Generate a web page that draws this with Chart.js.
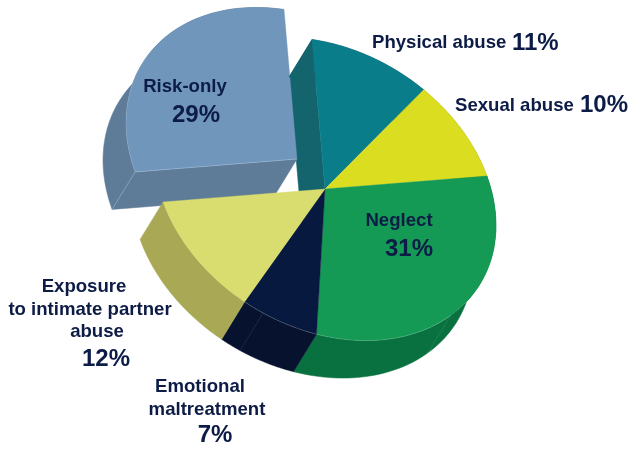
<!DOCTYPE html>
<html>
<head>
<meta charset="utf-8">
<title>Pie</title>
<script src="https://cdn.jsdelivr.net/npm/chart.js@4/dist/chart.umd.min.js"></script>
<style>
  html, body { margin: 0; padding: 0; background: #fff; }
  canvas { display: block; }
</style>
</head>
<body>
<canvas id="myChart" width="629" height="449"></canvas>
<script>
const categories = ["Physical abuse", "Sexual abuse", "Neglect", "Emotional maltreatment", "Exposure to intimate partner abuse", "Risk-only"];
const percents = [11, 10, 31, 7, 12, 29];
const topColors = ["#0A7D8B", "#DBDD20", "#149A54", "#07193F", "#D9DC6E", "#7096BC"];
const sideColors = ["#13646C", "#A8A82A", "#09713F", "#07122F", "#A9A955", "#5E7C98"];
const explodedSlice = 5;

// the tilted pie: top face centre, the two axes of the ellipse, how far the sides go down
const centre = [325, 189];
const axisA = [170.5, 25];
const axisB = [13, 149.5];
const depth = [-23, 37.5];
const explodeShift = [-28, -30];
const seamAngles = [137, 205.6]; // degrees clockwise from the start of the first slice

const TEXT_COLOR = "#0D1C47";
const labelLines = [
  ["Physical abuse", 372, 48, 18.6, "left"],
  ["11%", 512, 50, 24, "left"],
  ["Sexual abuse", 455, 111, 18.6, "left"],
  ["10%", 580, 112, 24, "left"],
  ["Neglect", 399, 226, 18.6, "center"],
  ["31%", 409, 256, 24, "center"],
  ["Risk-only", 185, 92, 18.6, "center"],
  ["29%", 196, 122, 24, "center"],
  ["Exposure", 84, 292, 18.6, "center"],
  ["to intimate partner", 90, 315, 18.6, "center"],
  ["abuse", 97, 337, 18.6, "center"],
  ["12%", 106, 366, 24, "center"],
  ["Emotional", 200, 392, 18.6, "center"],
  ["maltreatment", 207, 415, 18.6, "center"],
  ["7%", 215, 442, 24, "center"]
];

function onPie(angle, shift) {
  const c = Math.cos(angle), s = Math.sin(angle);
  return [
    centre[0] + shift[0] + axisA[0] * c + axisB[0] * s,
    centre[1] + shift[1] + axisA[1] * c + axisB[1] * s
  ];
}

function polygon(ctx, points, color) {
  ctx.beginPath();
  points.forEach((p, i) => (i ? ctx.lineTo(p[0], p[1]) : ctx.moveTo(p[0], p[1])));
  ctx.closePath();
  ctx.fillStyle = color;
  ctx.strokeStyle = color;
  ctx.lineWidth = 0.5;
  ctx.fill();
  ctx.stroke();
}

function drawBand(ctx, arc, color, shift) {
  const upper = [];
  const lower = [];
  const steps = 60;
  for (let i = 0; i <= steps; i++) {
    const p = onPie(arc.startAngle + (arc.endAngle - arc.startAngle) * i / steps, shift);
    upper.push(p);
    lower.unshift([p[0] + depth[0], p[1] + depth[1]]);
  }
  polygon(ctx, upper.concat(lower), color);
}

function drawEdgeWall(ctx, angle, color, shift) {
  const a = [centre[0] + shift[0], centre[1] + shift[1]];
  const b = onPie(angle, shift);
  polygon(ctx, [a, b, [b[0] + depth[0], b[1] + depth[1]], [a[0] + depth[0], a[1] + depth[1]]], color);
}

function drawTop(ctx, arc, shift) {
  const r = arc.outerRadius;
  ctx.save();
  ctx.translate(centre[0] + shift[0], centre[1] + shift[1]);
  ctx.transform(axisA[0] / r, axisA[1] / r, axisB[0] / r, axisB[1] / r, 0, 0);
  ctx.translate(-arc.x, -arc.y);
  arc.draw(ctx);
  ctx.restore();
}

function thinLine(ctx, points, alpha) {
  ctx.beginPath();
  points.forEach((p, i) => (i ? ctx.lineTo(p[0], p[1]) : ctx.moveTo(p[0], p[1])));
  ctx.strokeStyle = "rgba(255,255,255," + alpha + ")";
  ctx.lineWidth = 0.5;
  ctx.stroke();
}

function arcLine(from, to, shift) {
  const points = [];
  for (let i = 0; i <= 40; i++) {
    points.push(onPie(from + (to - from) * i / 40, shift));
  }
  return points;
}

const piePlugin = {
  id: "tiltedPie",
  beforeDatasetDraw(chart) {
    const ctx = chart.ctx;
    const arcs = chart.getDatasetMeta(0).data;
    const still = [0, 0];
    ctx.save();

    // the wall left open by the slice that was pulled out
    drawEdgeWall(ctx, arcs[0].startAngle, sideColors[0], still);

    // pulled out slice goes behind the others
    const out = arcs[explodedSlice];
    drawBand(ctx, out, sideColors[explodedSlice], explodeShift);
    drawEdgeWall(ctx, out.startAngle, sideColors[explodedSlice], explodeShift);
    drawTop(ctx, out, explodeShift);

    // light edges on the pulled out slice
    const corner = onPie(out.startAngle, explodeShift);
    thinLine(ctx, [[centre[0] + explodeShift[0], centre[1] + explodeShift[1]], corner], 0.4);
    thinLine(ctx, [corner, [corner[0] + depth[0], corner[1] + depth[1]]], 0.4);
    thinLine(ctx, arcLine(out.startAngle, out.startAngle + 0.9, explodeShift), 0.2);

    arcs.forEach((arc, i) => {
      if (i !== explodedSlice) drawBand(ctx, arc, sideColors[i], still);
    });
    arcs.forEach((arc, i) => {
      if (i !== explodedSlice) drawTop(ctx, arc, still);
    });

    // faint seams on the sides and along the front edge
    const seams = seamAngles.map((deg) => -Math.PI / 2 + deg * Math.PI / 180);
    seams.forEach((angle) => {
      const p = onPie(angle, still);
      thinLine(ctx, [p, [p[0] + depth[0], p[1] + depth[1]]], 0.18);
    });
    thinLine(ctx, arcLine(seams[0], arcs[3].endAngle, still), 0.35);

    ctx.restore();
    return false;
  },
  afterDraw(chart) {
    const ctx = chart.ctx;
    ctx.save();
    ctx.fillStyle = TEXT_COLOR;
    ctx.textBaseline = "alphabetic";
    labelLines.forEach(([text, x, y, size, align]) => {
      ctx.font = "bold " + size + "px 'Liberation Sans'";
      ctx.textAlign = align;
      ctx.fillText(text, x, y);
    });
    ctx.restore();
  }
};

new Chart(document.getElementById("myChart"), {
  type: "pie",
  data: {
    labels: categories,
    datasets: [{
      data: percents,
      backgroundColor: topColors,
      borderColor: topColors,
      borderWidth: 0.5
    }]
  },
  options: {
    responsive: false,
    animation: false,
    rotation: 0,
    plugins: {
      legend: { display: false },
      tooltip: { enabled: false }
    }
  },
  plugins: [piePlugin]
});
</script>
</body>
</html>
